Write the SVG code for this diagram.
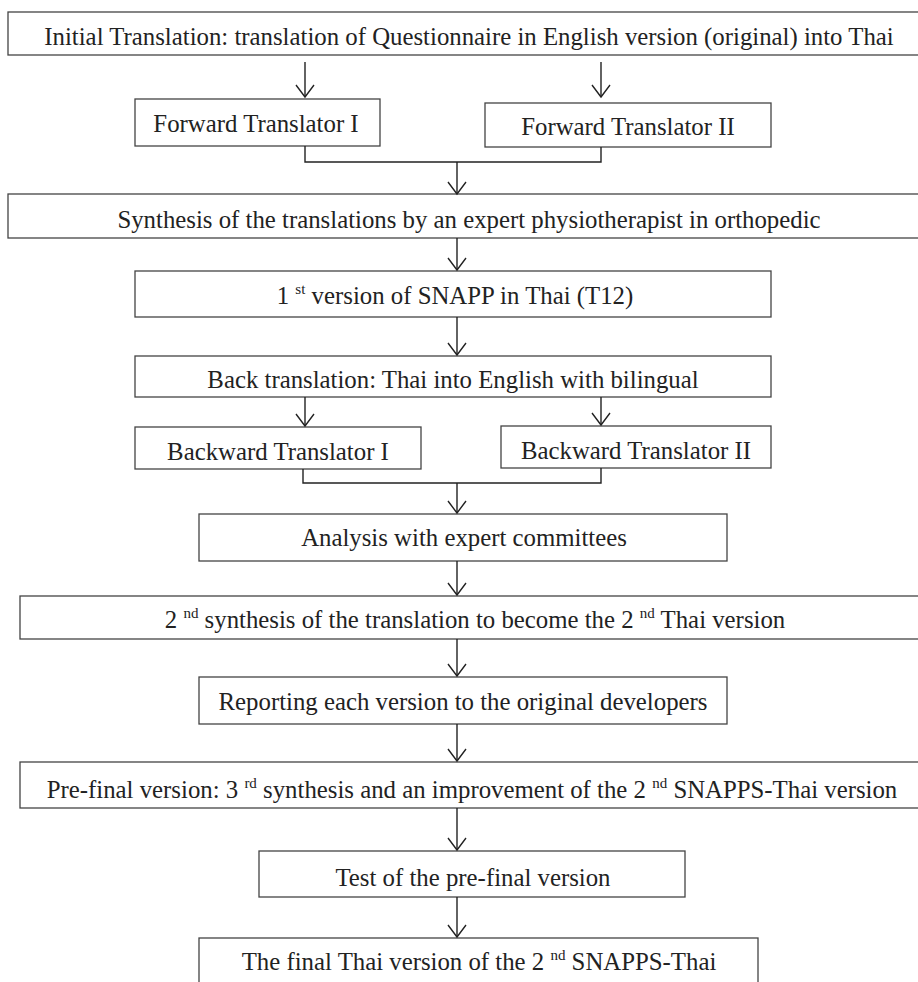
<svg xmlns="http://www.w3.org/2000/svg" width="918" height="982" viewBox="0 0 918 982">
<style>
.box{fill:#fff;stroke:#444;stroke-width:1.3}
.t{font-family:"Liberation Serif","Times New Roman",serif;font-size:24.8px;fill:#222;text-anchor:middle}
.sup{font-size:15px}
.c{fill:none;stroke:#222;stroke-width:1.4}
</style>
<defs>
<marker id="ah" viewBox="-14 -10 16 20" refX="0" refY="0" markerWidth="16" markerHeight="20" markerUnits="userSpaceOnUse" orient="auto">
<path d="M-12,-9 L0,0 L-12,9" fill="none" stroke="#222" stroke-width="1.4"/>
</marker>
</defs>
<rect width="918" height="982" fill="#fff"/>
<g id="n1"><rect class="box" x="8" y="12" width="920" height="43"/><text class="t" x="469" y="45">Initial Translation: translation of Questionnaire in English version (original) into Thai</text></g>
<g id="n2"><rect class="box" x="135" y="99" width="245" height="47"/><text class="t" x="256" y="132">Forward Translator I</text></g>
<g id="n3"><rect class="box" x="485" y="103" width="286" height="44"/><text class="t" x="628" y="135">Forward Translator II</text></g>
<g id="n4"><rect class="box" x="8" y="194" width="920" height="44"/><text class="t" x="469" y="228">Synthesis of the translations by an expert physiotherapist in orthopedic</text></g>
<g id="n5"><rect class="box" x="135" y="271" width="636" height="46"/><text class="t" x="455" y="304">1 <tspan class="sup" dy="-10">st</tspan><tspan dy="10"> version of SNAPP in Thai (T12)</tspan></text></g>
<g id="n6"><rect class="box" x="135" y="356" width="636" height="41"/><text class="t" x="453" y="388">Back translation: Thai into English with bilingual</text></g>
<g id="n7"><rect class="box" x="135" y="427" width="286" height="42"/><text class="t" x="278" y="460">Backward Translator I</text></g>
<g id="n8"><rect class="box" x="501" y="426" width="270" height="42"/><text class="t" x="636" y="459">Backward Translator II</text></g>
<g id="n9"><rect class="box" x="199" y="514" width="528" height="47"/><text class="t" x="464" y="546">Analysis with expert committees</text></g>
<g id="n10"><rect class="box" x="20" y="596" width="908" height="43"/><text class="t" x="475" y="628">2 <tspan class="sup" dy="-10">nd</tspan><tspan dy="10"> synthesis of the translation to become the 2 </tspan><tspan class="sup" dy="-10">nd</tspan><tspan dy="10"> Thai version</tspan></text></g>
<g id="n11"><rect class="box" x="199" y="677" width="528" height="47"/><text class="t" x="463" y="710">Reporting each version to the original developers</text></g>
<g id="n12"><rect class="box" x="20" y="762" width="908" height="46"/><text class="t" x="472" y="798">Pre-final version: 3 <tspan class="sup" dy="-10">rd</tspan><tspan dy="10"> synthesis and an improvement of the 2 </tspan><tspan class="sup" dy="-10">nd</tspan><tspan dy="10"> SNAPPS-Thai version</tspan></text></g>
<g id="n13"><rect class="box" x="259" y="851" width="426" height="46"/><text class="t" x="473" y="886">Test of the pre-final version</text></g>
<g id="n14"><rect class="box" x="199" y="938" width="559" height="60"/><text class="t" x="479" y="970">The final Thai version of the 2 <tspan class="sup" dy="-10">nd</tspan><tspan dy="10"> SNAPPS-Thai</tspan></text></g>
<g id="connectors">
<path class="c" d="M305,62 V97" marker-end="url(#ah)"/>
<path class="c" d="M601,62 V97" marker-end="url(#ah)"/>
<path class="c" d="M305,146 V162 H601 V147"/>
<path class="c" d="M457,162 V194" marker-end="url(#ah)"/>
<path class="c" d="M457,238 V270" marker-end="url(#ah)"/>
<path class="c" d="M457,317 V355" marker-end="url(#ah)"/>
<path class="c" d="M305,397 V426" marker-end="url(#ah)"/>
<path class="c" d="M601,397 V425" marker-end="url(#ah)"/>
<path class="c" d="M303,469 V483 H601 V468"/>
<path class="c" d="M457,483 V513" marker-end="url(#ah)"/>
<path class="c" d="M457,561 V595" marker-end="url(#ah)"/>
<path class="c" d="M457,639 V676" marker-end="url(#ah)"/>
<path class="c" d="M457,724 V761" marker-end="url(#ah)"/>
<path class="c" d="M457,808 V850" marker-end="url(#ah)"/>
<path class="c" d="M457,897 V937" marker-end="url(#ah)"/>
</g>
</svg>
